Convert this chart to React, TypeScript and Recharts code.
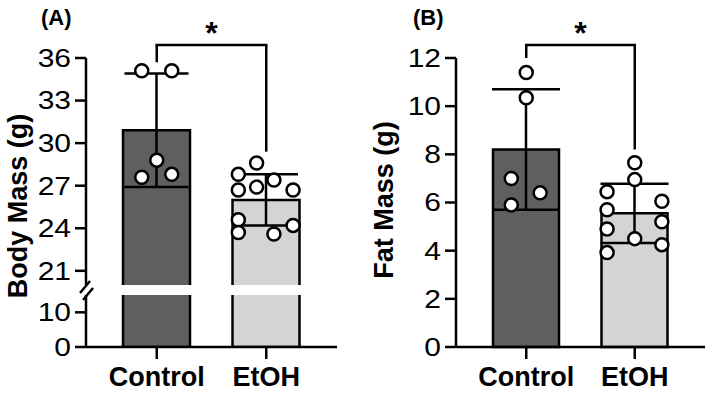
import React from 'react';
import { ComposedChart, Bar, XAxis, YAxis, Scatter, ErrorBar, Cell, ReferenceLine } from 'recharts';

const FONT = '"Liberation Sans", Arial, Helvetica, sans-serif';

// ---- data ----
const categories = ['Control', 'EtOH'];
const barColors = ['#5f5f5f', '#d4d4d4'];

const bodyMean = [30.9, 26.0];
const bodySd = [4.0, 1.8];
const bodyControlPts = [35.1, 35.1, 28.8, 27.6, 27.8];
const bodyControlOffsets = [-0.137, 0.137, 0, -0.137, 0.137];
const bodyEtohPts = [27.8, 26.7, 24.6, 23.7, 28.6, 26.9, 27.4, 23.6, 26.7, 24.2];
const bodyEtohOffsets = [-0.255, -0.255, -0.255, -0.255, -0.088, -0.088, 0.07, 0.07, 0.245, 0.245];
const bodyUpperTicks = [21, 24, 27, 30, 33, 36];
const bodyLowerTicks = [0, 10];
const bodyUpperDomain = [20, 36];
const bodyLowerDomain = [0, 15];
const bodyBracket = { top: 36.92, left: 35.7, right: 29.4 };

const fatMean = [8.2, 5.55];
const fatSd = [2.5, 1.23];
const fatControlPts = [11.4, 10.35, 7.0, 6.4, 5.9];
const fatControlOffsets = [0, 0, -0.138, 0.128, -0.138];
const fatEtohPts = [6.45, 5.7, 4.9, 3.92, 7.65, 6.95, 4.5, 6.05, 5.2, 4.25];
const fatEtohOffsets = [-0.255, -0.255, -0.255, -0.255, 0, 0, 0, 0.25, 0.25, 0.25];
const fatTicks = [0, 2, 4, 6, 8, 10, 12];
const fatBracket = { top: 12.54, left: 12.0, right: 8.2 };

// ---- tables ----
const bodyTable = categories.map((name, i) => ({ name, mean: bodyMean[i], sd: bodySd[i] }));
const fatTable = categories.map((name, i) => ({ name, mean: fatMean[i], sd: fatSd[i] }));
const mkPts = (vals: number[], offs: number[], idx: number) =>
  vals.map((v, i) => ({ x: idx + 1 + offs[i], y: v }));
const bodyPoints = [...mkPts(bodyControlPts, bodyControlOffsets, 0), ...mkPts(bodyEtohPts, bodyEtohOffsets, 1)];
const fatPoints = [...mkPts(fatControlPts, fatControlOffsets, 0), ...mkPts(fatEtohPts, fatEtohOffsets, 1)];

const LW = 2.5;
const lineStyle = { stroke: '#000', strokeWidth: LW };
const xTick = { fontSize: 27, fontWeight: 700, fill: '#000', fontFamily: FONT };
const PAD = { left: 16, right: 16 };

const YTick = (p: any) => {
  const { x, y, payload } = p;
  return (
    <text
      x={x}
      y={y}
      dy="0.355em"
      textAnchor="end"
      fontSize={25}
      fill="#000"
      fontFamily={FONT}
      transform={`translate(${x} ${y}) scale(1.2 1) translate(${-x} ${-y})`}
    >
      {payload.value}
    </text>
  );
};

const Dot = (p: any) => (
  <circle cx={p.cx} cy={p.cy} r={6.5} fill="#fff" stroke="#000" strokeWidth={LW} />
);

const OpenBottomBar = (p: any) => {
  const { x, y, width, height, fill } = p;
  if (width == null || height == null) return null;
  return (
    <g>
      <rect x={x} y={y} width={width} height={height} fill={fill} />
      <path
        d={`M${x},${y + height} V${y} H${x + width} V${y + height}`}
        stroke="#000"
        strokeWidth={LW}
        fill="none"
      />
    </g>
  );
};

const starLabel = { value: '*', position: 'top' as const, offset: 1, fontSize: 32, fontWeight: 700, fill: '#000', fontFamily: FONT };

const Bracket = (b: { top: number; left: number; right: number }) => [
  <ReferenceLine key="h" xAxisId="num" ifOverflow="visible" segment={[{ x: 1, y: b.top }, { x: 2, y: b.top }]} stroke="#000" strokeWidth={LW} strokeLinecap="square" label={starLabel} />,
  <ReferenceLine key="l" xAxisId="num" ifOverflow="visible" segment={[{ x: 1, y: b.top }, { x: 1, y: b.left }]} stroke="#000" strokeWidth={LW} />,
  <ReferenceLine key="r" xAxisId="num" ifOverflow="visible" segment={[{ x: 2, y: b.top }, { x: 2, y: b.right }]} stroke="#000" strokeWidth={LW} />,
];

export default function App() {
  return (
    <div style={{ position: 'absolute', left: 0, top: 0, width: 709, height: 400, background: '#fff', fontFamily: FONT, overflow: 'hidden' }}>
      {/* Panel A upper segment */}
      <div style={{ position: 'absolute', left: 0, top: 0 }}>
        <ComposedChart width={350} height={285} data={bodyTable} margin={{ top: 58, right: 13, bottom: 0, left: 0 }}>
          <XAxis xAxisId="cat" dataKey="name" type="category" padding={PAD} hide height={0} />
          <XAxis xAxisId="num" dataKey="x" type="number" domain={[0.5, 2.5]} padding={PAD} hide height={0} />
          <YAxis type="number" domain={bodyUpperDomain} ticks={bodyUpperTicks} interval={0} width={86}
            axisLine={lineStyle} tickLine={lineStyle} tickSize={11} tickMargin={4} tick={YTick} />
          <Bar xAxisId="cat" dataKey="mean" barSize={67} isAnimationActive={false} shape={OpenBottomBar}>
            {bodyTable.map((d, i) => <Cell key={d.name} fill={barColors[i]} />)}
            <ErrorBar dataKey="sd" width={32} stroke="#000" strokeWidth={LW} direction="y" />
          </Bar>
          <Scatter xAxisId="num" data={bodyPoints} dataKey="y" shape={Dot} isAnimationActive={false} />
          {Bracket(bodyBracket)}
        </ComposedChart>
      </div>
      {/* Panel A lower segment */}
      <div style={{ position: 'absolute', left: 0, top: 290 }}>
        <ComposedChart width={350} height={110} data={bodyTable} margin={{ top: 5, right: 13, bottom: 0, left: 0 }}>
          <XAxis xAxisId="cat" dataKey="name" type="category" padding={PAD} height={53}
            axisLine={lineStyle} tickLine={lineStyle} tickSize={12} tickMargin={8} tick={xTick} interval={0} />
          <YAxis type="number" domain={bodyLowerDomain} ticks={bodyLowerTicks} interval={0} width={86} allowDataOverflow
            axisLine={lineStyle} tickLine={lineStyle} tickSize={11} tickMargin={4} tick={YTick} />
          <Bar xAxisId="cat" dataKey="mean" barSize={67} isAnimationActive={false} stroke="#000" strokeWidth={LW}>
            {bodyTable.map((d, i) => <Cell key={d.name} fill={barColors[i]} />)}
          </Bar>
        </ComposedChart>
      </div>
      {/* Panel B */}
      <div style={{ position: 'absolute', left: 370, top: 0 }}>
        <ComposedChart width={339} height={400} data={fatTable} margin={{ top: 58, right: 4, bottom: 0, left: 0 }}>
          <XAxis xAxisId="cat" dataKey="name" type="category" padding={PAD} height={53}
            axisLine={lineStyle} tickLine={lineStyle} tickSize={12} tickMargin={8} tick={xTick} interval={0} />
          <XAxis xAxisId="num" dataKey="x" type="number" domain={[0.5, 2.5]} padding={PAD} hide height={0} />
          <YAxis type="number" domain={[0, 12]} ticks={fatTicks} interval={0} width={86}
            axisLine={lineStyle} tickLine={lineStyle} tickSize={11} tickMargin={4} tick={YTick} />
          <Bar xAxisId="cat" dataKey="mean" barSize={66} isAnimationActive={false} stroke="#000" strokeWidth={LW}>
            {fatTable.map((d, i) => <Cell key={d.name} fill={barColors[i]} />)}
            <ErrorBar dataKey="sd" width={34} stroke="#000" strokeWidth={LW} direction="y" />
          </Bar>
          <Scatter xAxisId="num" data={fatPoints} dataKey="y" shape={Dot} isAnimationActive={false} />
          {Bracket(fatBracket)}
        </ComposedChart>
      </div>
      {/* Titles, axis titles, axis break */}
      <svg width={709} height={400} style={{ position: 'absolute', left: 0, top: 0, pointerEvents: 'none' }}>
        <text x={41} y={25} fontSize={22} fontWeight={700} fill="#000" fontFamily={FONT}>(A)</text>
        <text x={413} y={25} fontSize={22} fontWeight={700} fill="#000" fontFamily={FONT}>(B)</text>
        <text x={27} y={206} transform="rotate(-90 27 206)" textAnchor="middle" fontSize={27} fontWeight={700} fill="#000" fontFamily={FONT}>Body Mass (g)</text>
        <text x={393} y={200} transform="rotate(-90 393 200)" textAnchor="middle" fontSize={27} fontWeight={700} fill="#000" fontFamily={FONT}>Fat Mass (g)</text>
        <line x1={80} y1={293} x2={90} y2={281} stroke="#000" strokeWidth={LW} />
        <line x1={83} y1={300} x2={93} y2={288} stroke="#000" strokeWidth={LW} />
      </svg>
    </div>
  );
}
